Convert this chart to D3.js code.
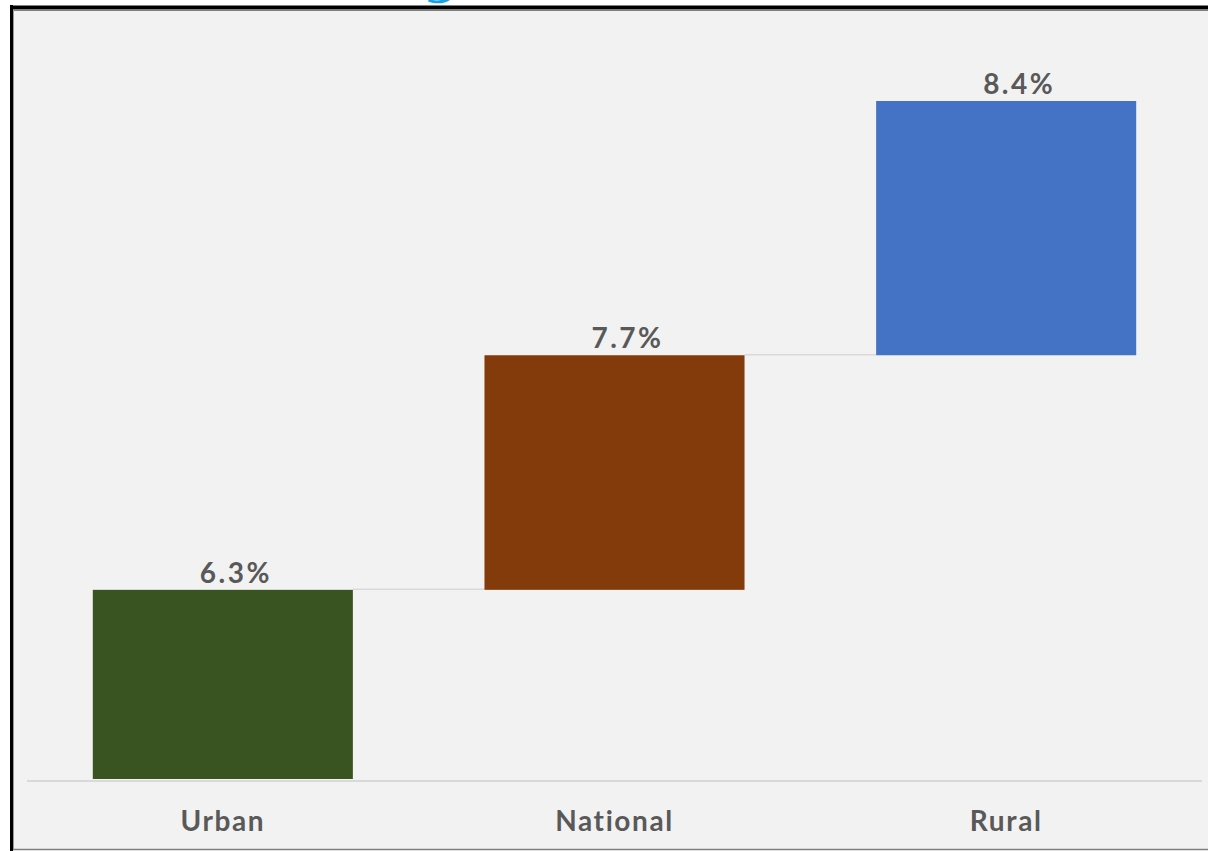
<!DOCTYPE html>
<html>
<head>
<meta charset="utf-8">
<script src="https://cdn.jsdelivr.net/npm/d3@7"></script>
<style>
  html, body { margin: 0; padding: 0; background: #ffffff; }
  svg { display: block; }
</style>
</head>
<body>
<svg id="chart" width="1208" height="851"></svg>
<script>
// Poverty rate by area, drawn as stepped bars
const categories = ["Urban", "National", "Rural"];
const values = [6.3, 7.7, 8.4];
const valueLabels = ["6.3%", "7.7%", "8.4%"];
const barColors = ["#3a5421", "#843b0c", "#4472c4"];

const W = 1208, H = 851;
const svg = d3.select("#chart");

// Panel frame
const panel = { left: 13, top: 10, right: 1212, bottom: 849 };
svg.append("rect")
  .attr("x", panel.left).attr("y", panel.top)
  .attr("width", panel.right - panel.left).attr("height", panel.bottom - panel.top)
  .attr("fill", "#f2f2f2");
// dark outer edge on top and left, thin grey rule along the bottom
svg.append("line").attr("x1", 11.5).attr("x2", 11.5).attr("y1", 5).attr("y2", 851)
  .attr("stroke", "#000").attr("stroke-width", 3);
svg.append("line").attr("x1", 10).attr("x2", W).attr("y1", 7.5).attr("y2", 7.5)
  .attr("stroke", "#000").attr("stroke-width", 4);
svg.append("line").attr("x1", 13).attr("x2", W).attr("y1", 10.5).attr("y2", 10.5)
  .attr("stroke", "#7f7f7f").attr("stroke-width", 1);
svg.append("line").attr("x1", 13.5).attr("x2", 13.5).attr("y1", 10).attr("y2", 849)
  .attr("stroke", "#9a9a9a").attr("stroke-width", 1);
svg.append("line").attr("x1", 13).attr("x2", W).attr("y1", 849.5).attr("y2", 849.5)
  .attr("stroke", "#7f7f7f").attr("stroke-width", 1.5);

// Curl of the heading's descender peeking above the panel
svg.append("path")
  .attr("d", "M428,1.5 C436,4.5 446,4 451,-1 L444,-1 C440,1 434,1 429,-1 Z")
  .attr("fill", "#1aa1e1");

// Scales
const plotLeft = 27, plotRight = 1202, plotBottom = 779, plotTop = 101;
const x = d3.scaleBand()
  .domain(categories)
  .range([plotLeft, plotRight])
  .paddingInner(0.336)
  .paddingOuter(0.168);

// Each bar rises from the previous value to its own; the value axis is
// stretched piecewise so every step gets a readable height.
const floorValue = 5.5;
const stepFractions = [0, 0.279, 0.625, 1];
const y = d3.scaleLinear()
  .domain([floorValue, ...values])
  .range(stepFractions.map(f => plotBottom - f * (plotBottom - plotTop)));

const starts = values.map((v, i) => (i === 0 ? floorValue : values[i - 1]));

// Category axis rule
svg.append("line")
  .attr("x1", plotLeft).attr("x2", plotRight)
  .attr("y1", y(floorValue) + 2).attr("y2", y(floorValue) + 2)
  .attr("stroke", "#d9d9d9").attr("stroke-width", 2);

// Connectors between consecutive steps
const g = svg.append("g");
g.selectAll("line.connector")
  .data(values.slice(0, -1))
  .join("line")
  .attr("class", "connector")
  .attr("x1", (d, i) => x(categories[i]) + x.bandwidth())
  .attr("x2", (d, i) => x(categories[i + 1]))
  .attr("y1", d => y(d) - 0.5)
  .attr("y2", d => y(d) - 0.5)
  .attr("stroke", "#d9d9d9").attr("stroke-width", 1.5);

// Bars
g.selectAll("rect.bar")
  .data(values)
  .join("rect")
  .attr("class", "bar")
  .attr("x", (d, i) => x(categories[i]))
  .attr("width", x.bandwidth())
  .attr("y", d => y(d))
  .attr("height", (d, i) => y(starts[i]) - y(d))
  .attr("fill", (d, i) => barColors[i]);

// Value labels (sit slightly right of the bar centre)
g.selectAll("text.value")
  .data(values)
  .join("text")
  .attr("class", "value")
  .attr("x", (d, i) => x(categories[i]) + x.bandwidth() / 2 + 13)
  .attr("y", d => y(d) - 7)
  .attr("text-anchor", "middle")
  .attr("font-family", "Lato, sans-serif")
  .attr("font-weight", 700)
  .attr("font-size", 28)
  .attr("letter-spacing", 2.5)
  .attr("fill", "#595959")
  .text((d, i) => valueLabels[i]);

// Category labels
g.selectAll("text.cat")
  .data(categories)
  .join("text")
  .attr("class", "cat")
  .attr("x", d => x(d) + x.bandwidth() / 2)
  .attr("y", 831)
  .attr("text-anchor", "middle")
  .attr("font-family", "Lato, sans-serif")
  .attr("font-weight", 700)
  .attr("font-size", 28)
  .attr("letter-spacing", 1.6)
  .attr("fill", "#595959")
  .text(d => d);
</script>
</body>
</html>
